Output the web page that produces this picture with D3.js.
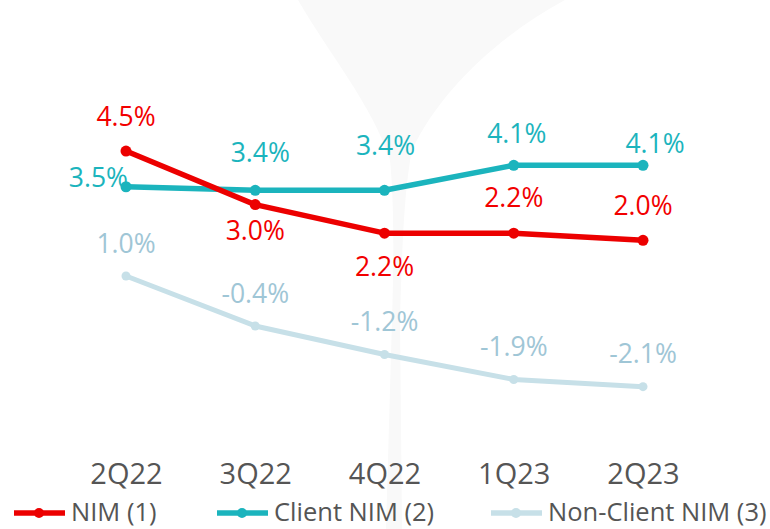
<!DOCTYPE html>
<html>
<head>
<meta charset="utf-8">
<script src="https://cdn.jsdelivr.net/npm/d3@7/dist/d3.min.js"></script>
<style>
  html, body { margin: 0; padding: 0; background: #ffffff; }
  svg { display: block; }
  text { font-family: "Open Sans", "Noto Sans", sans-serif; }
</style>
</head>
<body>
<svg id="chart" width="770" height="529"></svg>
<script>
// Quarters on the x axis
const quarters = ["2Q22", "3Q22", "4Q22", "1Q23", "2Q23"];

// Margin values, %
const nim = [4.5, 3.0, 2.2, 2.2, 2.0];
const clientNim = [3.5, 3.4, 3.4, 4.1, 4.1];
const nonClientNim = [1.0, -0.4, -1.2, -1.9, -2.1];

// Legend entries
const seriesNames = ["NIM (1)", "Client NIM (2)", "Non-Client NIM (3)"];

// Label placement relative to each point (dx, dy to text baseline)
const nimLabelOffsets = [[0, -25], [0, 35], [0, 43], [0, -26], [0, -25]];
const clientLabelOffsets = [[2, 0], [5, -28], [1, -35], [3, -22], [12, -12]];
const nonClientLabelOffsets = [[0, -23], [0, -23], [0, -24], [0, -24], [0, -24]];

const svg = d3.select("#chart");

// faint background flame shape
svg.append("path")
  .attr("d", "M298,0 C330,55 372,105 390,160 C394,200 394,260 392,320 L386,529 L402,529 L400,320 C402,250 404,190 412,150 C440,90 500,35 565,0 Z")
  .attr("fill", "#f9f9f9");

const x = d3.scalePoint().domain(quarters).range([126, 643]);
const y = d3.scaleLinear().domain([-3, 5]).range([418.8, 133.2]);

const series = [
  { name: seriesNames[0], values: nim, offsets: nimLabelOffsets,
    line: "#ec0000", label: "#f20000", width: 5.5, r: 5.5 },
  { name: seriesNames[1], values: clientNim, offsets: clientLabelOffsets,
    line: "#1bb4bd", label: "#1bb4bd", width: 5.5, r: 5.5, anchor0: "end" },
  { name: seriesNames[2], values: nonClientNim, offsets: nonClientLabelOffsets,
    line: "#c7e0e8", label: "#9fc6d6", width: 5, r: 4.5 }
];

const line = d3.line()
  .x((d, i) => x(quarters[i]))
  .y(d => y(d));

// draw back-to-front so NIM sits on top
[series[2], series[1], series[0]].forEach(s => {
  const g = svg.append("g");
  g.append("path")
    .attr("d", line(s.values))
    .attr("fill", "none")
    .attr("stroke", s.line)
    .attr("stroke-width", s.width)
    .attr("stroke-linejoin", "round")
    .attr("stroke-linecap", "round");
  g.selectAll("circle").data(s.values).join("circle")
    .attr("cx", (d, i) => x(quarters[i]))
    .attr("cy", d => y(d))
    .attr("r", s.r)
    .attr("fill", s.line);
  g.selectAll("text").data(s.values).join("text")
    .attr("x", (d, i) => x(quarters[i]) + s.offsets[i][0])
    .attr("y", (d, i) => y(d) + s.offsets[i][1])
    .attr("text-anchor", (d, i) => (i === 0 && s.anchor0) ? s.anchor0 : "middle")
    .attr("font-size", 26.5)
    .attr("fill", s.label)
    .text(d => d.toFixed(1) + "%");
});

// x axis labels (no domain line or ticks)
const xAxis = d3.axisBottom(x).tickSize(0).tickPadding(0);
const axisG = svg.append("g")
  .attr("transform", "translate(0,463)")
  .call(xAxis);
axisG.select(".domain").remove();
axisG.selectAll("text")
  .attr("font-family", "'Open Sans', 'Noto Sans', sans-serif")
  .attr("font-size", 29)
  .attr("fill", "#555555")
  .attr("dy", "0.72em");

// legend
const legendX = [14, 217, 491];
const legend = svg.append("g").attr("transform", "translate(0,513)");
series.forEach((s, i) => {
  const lg = legend.append("g").attr("transform", `translate(${legendX[i]},0)`);
  lg.append("line")
    .attr("x1", 0).attr("x2", 51)
    .attr("stroke", s.line)
    .attr("stroke-width", 5.5);
  lg.append("circle")
    .attr("cx", 25).attr("r", 5)
    .attr("fill", s.line);
  lg.append("text")
    .attr("x", 57)
    .attr("y", 8)
    .attr("font-size", 25.5)
    .attr("fill", "#555555")
    .text(s.name);
});
</script>
</body>
</html>
